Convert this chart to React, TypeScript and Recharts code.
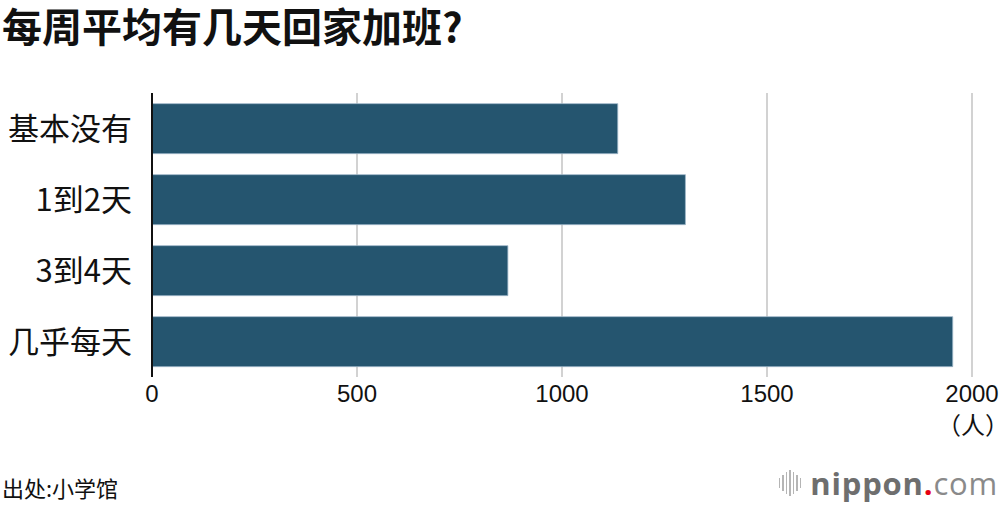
import React from 'react';
import { BarChart, Bar, XAxis, YAxis, CartesianGrid } from 'recharts';

const categories = ['基本没有', '1到2天', '3到4天', '几乎每天'];
const counts = [1136, 1301, 868, 1953];
const xTicks = [0, 500, 1000, 1500, 2000];

const data = categories.map((name, i) => ({ name, value: counts[i] }));

const CJK = '"Noto Sans CJK SC", "Noto Sans", sans-serif';
const LATIN = '"Liberation Sans", Arial, sans-serif';

const Logo: React.FC = () => {
  const bars = [10, 16, 22, 26, 22, 16, 10];
  return (
    <div style={{ position: 'absolute', right: 2, top: 466, display: 'flex', alignItems: 'center', height: 34 }}>
      <div style={{ display: 'flex', alignItems: 'center', gap: 2, marginRight: 9 }}>
        {bars.map((h, i) => (
          <span key={i} style={{ width: 1.5, height: h, background: '#b5b5b5', display: 'inline-block' }} />
        ))}
      </div>
      <span style={{ fontFamily: '"Open Sans", sans-serif', fontSize: 31, lineHeight: 1, letterSpacing: 0.8 }}>
        <span style={{ color: '#6e6e6e', fontWeight: 700 }}>nippon</span>
        <span style={{ color: '#e60012', fontWeight: 700 }}>.</span>
        <span style={{ color: '#8a8a8a', fontWeight: 400 }}>com</span>
      </span>
    </div>
  );
};

export default function App() {
  return (
    <div style={{ position: 'absolute', left: 0, top: 0, width: 1000, height: 506, background: '#fff', overflow: 'hidden' }}>
      <div style={{ position: 'absolute', left: 2, top: 2, width: 600, fontFamily: CJK, fontWeight: 700, fontSize: 40, lineHeight: '46px', color: '#111', whiteSpace: 'nowrap' }}>
        每周平均有几天回家加班?
      </div>
      <BarChart
        width={1000}
        height={506}
        data={data}
        layout="vertical"
        margin={{ top: 93, right: 28, bottom: 99, left: 0 }}
        barCategoryGap="15%"
      >
        <CartesianGrid horizontal={false} stroke="#d2d2d2" strokeWidth={2} />
        <XAxis
          type="number"
          domain={[0, 2000]}
          ticks={xTicks}
          height={30}
          axisLine={false}
          tickLine={false}
          tickSize={0}
          tickMargin={8}
          tick={{ fontFamily: LATIN, fontSize: 24, fill: '#111' }}
        />
        <YAxis
          type="category"
          dataKey="name"
          width={152}
          axisLine={{ stroke: '#111', strokeWidth: 2 }}
          tickLine={false}
          tickSize={0}
          tickMargin={20}
          tick={{ fontFamily: CJK, fontSize: 31, fill: '#111' }}
        />
        <Bar dataKey="value" fill="#25556f" stroke="#9db6c8" strokeWidth={0.8} isAnimationActive={false} />
      </BarChart>
      <div style={{ position: 'absolute', right: 3, top: 412, fontFamily: CJK, fontSize: 24, lineHeight: 1, color: '#111', fontFeatureSettings: '"halt"', whiteSpace: 'nowrap' }}>
        （人）
      </div>
      <div style={{ position: 'absolute', left: 2, top: 476, fontFamily: CJK, fontSize: 22, lineHeight: 1, color: '#111' }}>
        出处:小学馆
      </div>
      <Logo />
    </div>
  );
}
